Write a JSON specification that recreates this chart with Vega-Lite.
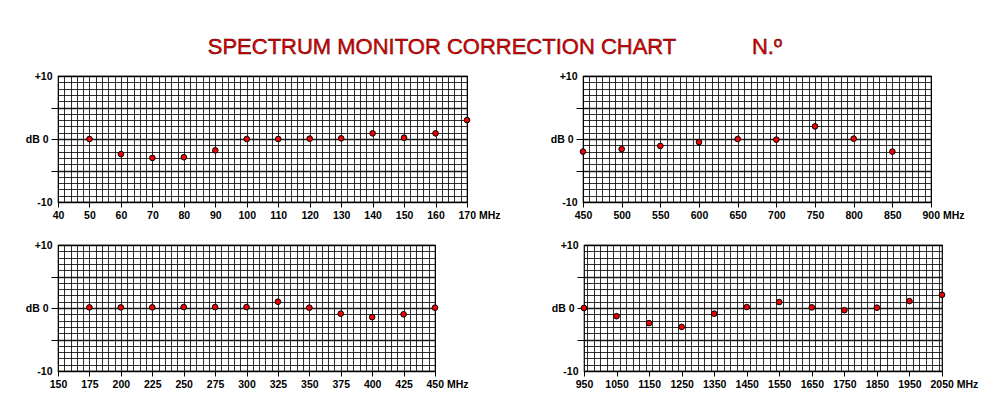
{
  "$schema": "https://vega.github.io/schema/vega-lite/v6.json",
  "padding": {"left": 24, "top": 36, "right": 5, "bottom": 5},
  "background": "white",
  "datasets": {
    "title": [{"t": "SPECTRUM MONITOR CORRECTION CHART", "n": "N.º"}],
    "band1": [
      {"f": 50, "db": 0}, {"f": 60, "db": -2.4}, {"f": 70, "db": -3}, {"f": 80, "db": -2.9},
      {"f": 90, "db": -1.8}, {"f": 100, "db": 0}, {"f": 110, "db": 0}, {"f": 120, "db": 0.05},
      {"f": 130, "db": 0.1}, {"f": 140, "db": 0.9}, {"f": 150, "db": 0.2}, {"f": 160, "db": 0.9},
      {"f": 170, "db": 3}
    ],
    "band2": [
      {"f": 450, "db": -2}, {"f": 500, "db": -1.6}, {"f": 550, "db": -1.1}, {"f": 600, "db": -0.5},
      {"f": 650, "db": 0}, {"f": 700, "db": -0.1}, {"f": 750, "db": 2}, {"f": 800, "db": 0.05},
      {"f": 850, "db": -2}
    ],
    "band3": [
      {"f": 175, "db": 0.1}, {"f": 200, "db": 0.1}, {"f": 225, "db": 0.1}, {"f": 250, "db": 0.15},
      {"f": 275, "db": 0.15}, {"f": 300, "db": 0.15}, {"f": 325, "db": 1}, {"f": 350, "db": 0.05},
      {"f": 375, "db": -0.9}, {"f": 400, "db": -1.45}, {"f": 425, "db": -1}, {"f": 450, "db": 0.05}
    ],
    "band4": [
      {"f": 950, "db": 0}, {"f": 1050, "db": -1.3}, {"f": 1150, "db": -2.4}, {"f": 1250, "db": -3},
      {"f": 1350, "db": -0.9}, {"f": 1450, "db": 0.15}, {"f": 1550, "db": 0.95}, {"f": 1650, "db": 0.1},
      {"f": 1750, "db": -0.35}, {"f": 1850, "db": 0.05}, {"f": 1950, "db": 1.1}, {"f": 2050, "db": 2.1}
    ]
  },
  "config": {
    "view": {"stroke": "black", "strokeWidth": 1.2},
    "axis": {
      "labelFont": "Liberation Sans", "labelFontWeight": "bold", "labelFontSize": 10.5,
      "labelColor": "black", "tickColor": "black", "gridColor": "black",
      "gridOpacity": 0.9, "gridWidth": 0.9, "domain": false
    }
  },
  "spacing": 12,
  "vconcat": [
    {
      "width": 768, "height": 20,
      "view": {"stroke": null},
      "data": {"name": "title"},
      "layer": [
        {"mark": {"type": "text", "font": "Liberation Sans", "fontSize": 22, "fill": "#f00000", "stroke": "#300000", "strokeWidth": 0.45, "baseline": "middle"},
         "encoding": {"text": {"field": "t"}}},
        {"mark": {"type": "text", "font": "Liberation Sans", "fontSize": 22, "fill": "#f00000", "stroke": "#300000", "strokeWidth": 0.45, "dx": 325, "baseline": "middle"},
         "encoding": {"text": {"field": "n"}}}
      ]
    },
    {
      "spacing": 17,
      "vconcat": [
        {
          "hconcat": [
            {
              "width": 409, "height": 126,
              "data": {"name": "band1"},
              "layer": [
                {"mark": {"type": "point", "opacity": 0},
                 "encoding": {
                   "x": {"field": "f", "type": "quantitative", "scale": {"domain": [40, 170], "nice": false, "zero": false},
                         "axis": {"orient": "top", "grid": true, "ticks": false, "labels": false, "tickCount": 65, "title": null}},
                   "y": {"field": "db", "type": "quantitative", "scale": {"domain": [-10, 10], "nice": false},
                         "axis": {"orient": "right", "grid": true, "ticks": false, "labels": false, "tickCount": 20, "title": null,
                                  "gridWidth": {"condition": {"test": "datum.value % 5 == 0", "value": 1.4}, "value": 0.9}}}
                 }},
                {"mark": {"type": "point", "filled": true, "fill": "#ee0000", "stroke": "black", "strokeWidth": 1, "size": 32, "opacity": 1},
                 "encoding": {
                   "x": {"field": "f", "type": "quantitative",
                         "axis": {"orient": "bottom", "values": [40, 50, 60, 70, 80, 90, 100, 110, 120, 130, 140, 150, 160, 170], "grid": false, "title": null,
                                  "tickSize": 5, "labelPadding": 3, "labelFlush": false,
                                  "labelExpr": "datum.value == 170 ? '170 MHz' : datum.label",
                                  "labelAlign": {"condition": {"test": "datum.value == 170", "value": "left"}, "value": "center"},
                                  "labelOffset": {"condition": {"test": "datum.value == 170", "value": -9}, "value": 0}}},
                   "y": {"field": "db", "type": "quantitative",
                         "axis": {"orient": "left", "values": [-10, -5, 0, 5, 10], "grid": false, "title": null, "tickSize": 7,
                                  "labelExpr": "datum.value == 10 ? '+10' : datum.value == 0 ? 'dB 0' : datum.value == -10 ? '-10' : ''",
                                  "tickColor": {"condition": {"test": "abs(datum.value) == 10", "value": "transparent"}, "value": "black"},
                                  "labelPadding": {"condition": {"test": "abs(datum.value) == 10", "value": -1}, "value": 3}}}
                 }}
              ],
              "resolve": {"axis": {"x": "independent", "y": "independent"}}
            },
            {
              "width": 348, "height": 126,
              "data": {"name": "band2"},
              "layer": [
                {"mark": {"type": "point", "opacity": 0},
                 "encoding": {
                   "x": {"field": "f", "type": "quantitative", "scale": {"domain": [450, 900], "nice": false, "zero": false},
                         "axis": {"orient": "top", "grid": true, "ticks": false, "labels": false, "title": null,
                                  "values": [450, 458.333, 466.667, 475, 483.333, 491.667, 500, 508.333, 516.667, 525, 533.333, 541.667,
                                             550, 558.333, 566.667, 575, 583.333, 591.667, 600, 608.333, 616.667, 625, 633.333, 641.667,
                                             650, 658.333, 666.667, 675, 683.333, 691.667, 700, 708.333, 716.667, 725, 733.333, 741.667,
                                             750, 758.333, 766.667, 775, 783.333, 791.667, 800, 808.333, 816.667, 825, 833.333, 841.667,
                                             850, 858.333, 866.667, 875, 883.333, 891.667, 900]}},
                   "y": {"field": "db", "type": "quantitative", "scale": {"domain": [-10, 10], "nice": false},
                         "axis": {"orient": "right", "grid": true, "ticks": false, "labels": false, "tickCount": 20, "title": null,
                                  "gridWidth": {"condition": {"test": "datum.value % 5 == 0", "value": 1.4}, "value": 0.9}}}
                 }},
                {"mark": {"type": "point", "filled": true, "fill": "#ee0000", "stroke": "black", "strokeWidth": 1, "size": 32, "opacity": 1},
                 "encoding": {
                   "x": {"field": "f", "type": "quantitative",
                         "axis": {"orient": "bottom", "values": [450, 500, 550, 600, 650, 700, 750, 800, 850, 900], "grid": false, "title": null,
                                  "tickSize": 5, "labelPadding": 3, "labelFlush": false,
                                  "labelExpr": "datum.value == 900 ? '900 MHz' : datum.label",
                                  "labelAlign": {"condition": {"test": "datum.value == 900", "value": "left"}, "value": "center"},
                                  "labelOffset": {"condition": {"test": "datum.value == 900", "value": -9}, "value": 0}}},
                   "y": {"field": "db", "type": "quantitative",
                         "axis": {"orient": "left", "values": [-10, -5, 0, 5, 10], "grid": false, "title": null, "tickSize": 7,
                                  "labelExpr": "datum.value == 10 ? '+10' : datum.value == 0 ? 'dB 0' : datum.value == -10 ? '-10' : ''",
                                  "tickColor": {"condition": {"test": "abs(datum.value) == 10", "value": "transparent"}, "value": "black"},
                                  "labelPadding": {"condition": {"test": "abs(datum.value) == 10", "value": -1}, "value": 3}}}
                 }}
              ],
              "resolve": {"axis": {"x": "independent", "y": "independent"}}
            }
          ],
          "spacing": 116,
          "bounds": "flush"
        },
        {
          "hconcat": [
            {
              "width": 377, "height": 126,
              "data": {"name": "band3"},
              "layer": [
                {"mark": {"type": "point", "opacity": 0},
                 "encoding": {
                   "x": {"field": "f", "type": "quantitative", "scale": {"domain": [150, 450], "nice": false, "zero": false},
                         "axis": {"orient": "top", "grid": true, "ticks": false, "labels": false, "tickCount": 60, "title": null}},
                   "y": {"field": "db", "type": "quantitative", "scale": {"domain": [-10, 10], "nice": false},
                         "axis": {"orient": "right", "grid": true, "ticks": false, "labels": false, "tickCount": 20, "title": null,
                                  "gridWidth": {"condition": {"test": "datum.value % 5 == 0", "value": 1.4}, "value": 0.9}}}
                 }},
                {"mark": {"type": "point", "filled": true, "fill": "#ee0000", "stroke": "black", "strokeWidth": 1, "size": 32, "opacity": 1},
                 "encoding": {
                   "x": {"field": "f", "type": "quantitative",
                         "axis": {"orient": "bottom", "values": [150, 175, 200, 225, 250, 275, 300, 325, 350, 375, 400, 425, 450], "grid": false, "title": null,
                                  "tickSize": 5, "labelPadding": 3, "labelFlush": false,
                                  "labelExpr": "datum.value == 450 ? '450 MHz' : datum.label",
                                  "labelAlign": {"condition": {"test": "datum.value == 450", "value": "left"}, "value": "center"},
                                  "labelOffset": {"condition": {"test": "datum.value == 450", "value": -9}, "value": 0}}},
                   "y": {"field": "db", "type": "quantitative",
                         "axis": {"orient": "left", "values": [-10, -5, 0, 5, 10], "grid": false, "title": null, "tickSize": 7,
                                  "labelExpr": "datum.value == 10 ? '+10' : datum.value == 0 ? 'dB 0' : datum.value == -10 ? '-10' : ''",
                                  "tickColor": {"condition": {"test": "abs(datum.value) == 10", "value": "transparent"}, "value": "black"},
                                  "labelPadding": {"condition": {"test": "abs(datum.value) == 10", "value": -1}, "value": 3}}}
                 }}
              ],
              "resolve": {"axis": {"x": "independent", "y": "independent"}}
            },
            {
              "width": 358, "height": 126,
              "data": {"name": "band4"},
              "layer": [
                {"mark": {"type": "point", "opacity": 0},
                 "encoding": {
                   "x": {"field": "f", "type": "quantitative", "scale": {"domain": [950, 2050], "nice": false, "zero": false},
                         "axis": {"orient": "top", "grid": true, "ticks": false, "labels": false, "tickCount": 55, "title": null}},
                   "y": {"field": "db", "type": "quantitative", "scale": {"domain": [-10, 10], "nice": false},
                         "axis": {"orient": "right", "grid": true, "ticks": false, "labels": false, "tickCount": 20, "title": null,
                                  "gridWidth": {"condition": {"test": "datum.value % 5 == 0", "value": 1.4}, "value": 0.9}}}
                 }},
                {"mark": {"type": "point", "filled": true, "fill": "#ee0000", "stroke": "black", "strokeWidth": 1, "size": 32, "opacity": 1},
                 "encoding": {
                   "x": {"field": "f", "type": "quantitative",
                         "axis": {"orient": "bottom", "values": [950, 1050, 1150, 1250, 1350, 1450, 1550, 1650, 1750, 1850, 1950, 2050], "grid": false, "title": null,
                                  "tickSize": 5, "labelPadding": 3, "labelFlush": false, "format": "d",
                                  "labelExpr": "datum.value == 2050 ? '2050 MHz' : datum.label",
                                  "labelAlign": {"condition": {"test": "datum.value == 2050", "value": "left"}, "value": "center"},
                                  "labelOffset": {"condition": {"test": "datum.value == 2050", "value": -12}, "value": 0}}},
                   "y": {"field": "db", "type": "quantitative",
                         "axis": {"orient": "left", "values": [-10, -5, 0, 5, 10], "grid": false, "title": null, "tickSize": 7,
                                  "labelExpr": "datum.value == 10 ? '+10' : datum.value == 0 ? 'dB 0' : datum.value == -10 ? '-10' : ''",
                                  "tickColor": {"condition": {"test": "abs(datum.value) == 10", "value": "transparent"}, "value": "black"},
                                  "labelPadding": {"condition": {"test": "abs(datum.value) == 10", "value": -1}, "value": 3}}}
                 }}
              ],
              "resolve": {"axis": {"x": "independent", "y": "independent"}}
            }
          ],
          "spacing": 149,
          "bounds": "flush"
        }
      ]
    }
  ]
}
